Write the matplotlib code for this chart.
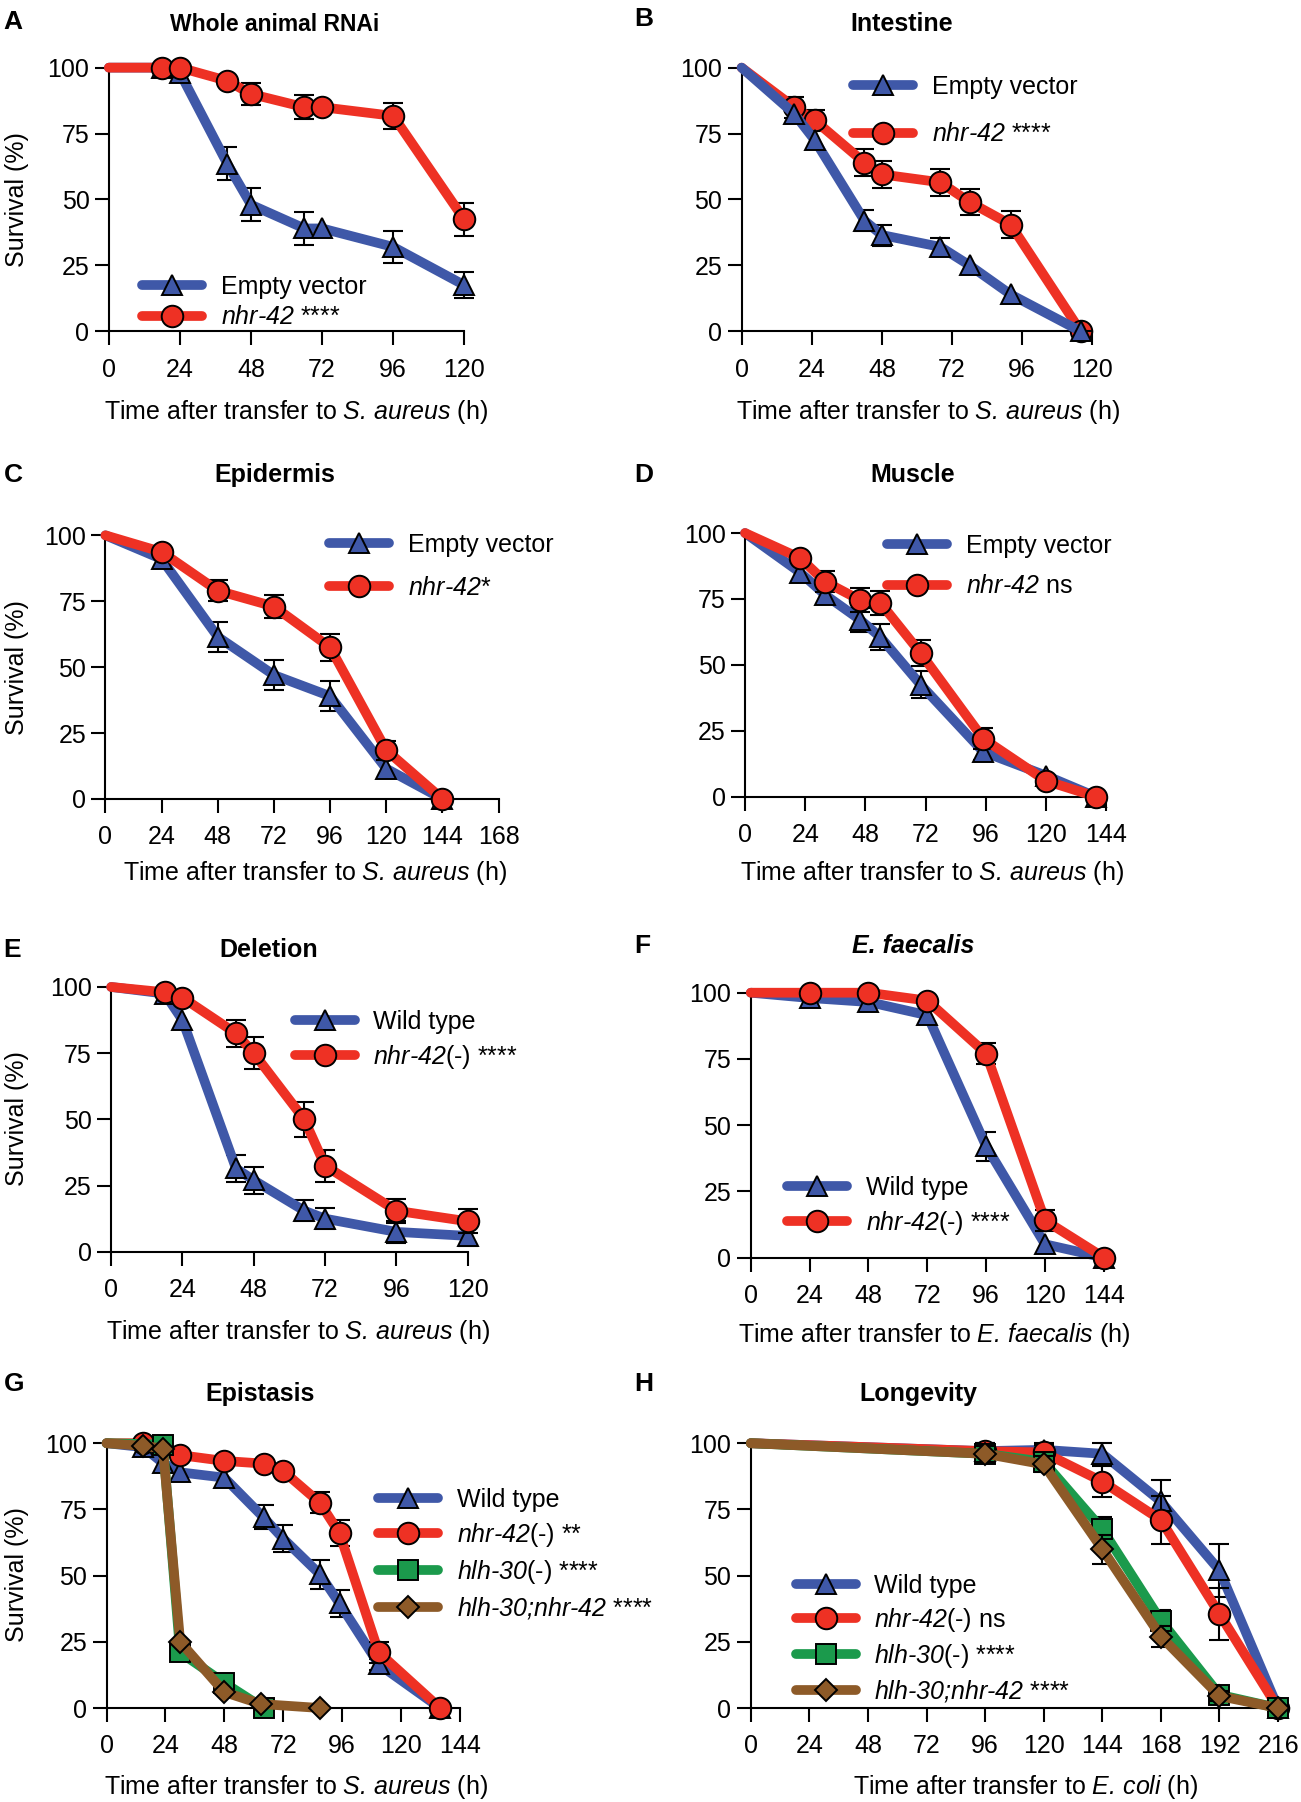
import numpy as np
import matplotlib
matplotlib.use("Agg")
import matplotlib.pyplot as plt
from matplotlib.lines import Line2D

plt.rcParams['font.family'] = ['Liberation Sans', 'DejaVu Sans']
# math text is only used for the italic gene / species names
plt.rcParams['mathtext.fontset'] = 'custom'
plt.rcParams['mathtext.rm'] = 'Liberation Sans:italic'
plt.rcParams['mathtext.it'] = 'Liberation Sans:italic'
plt.rcParams['mathtext.bf'] = 'Liberation Sans:bold'

nan = np.nan

# ---- data (survival %, hours) ----
a_t = [0, 18, 24, 40, 48, 66, 72, 96, 120]
a_ev = [100, 100, 98, 63.5, 48, 39, 39, 32, 17.5]
a_ev_err = [nan, nan, nan, 6.3, 6.3, 6.3, nan, 6.2, 5]
a_nhr = [100, 100, 100, 95, 90, 85, 85, 81.7, 42.4]
a_nhr_err = [nan, nan, nan, nan, 4, 4.5, nan, 4.8, 6.4]

b_t = [0, 18, 25, 42, 48, 68, 78, 92, 116]
b_ev = [100, 82.5, 72.5, 42, 36.5, 32, 25, 14, 0]
b_ev_err = [nan, nan, nan, 4, 4, 3.5, nan, nan, nan]
b_nhr = [100, 85, 80, 64, 59.5, 56.5, 49, 40.5, 0]
b_nhr_err = [nan, 4, 4, 5, 5, 5, 5, 5, nan]

c_t = [0, 24, 48, 72, 96, 120, 144]
c_ev = [100, 91, 61.5, 47, 39, 11.5, 0]
c_ev_err = [nan, nan, 5.7, 5.7, 5.7, 3.5, nan]
c_nhr = [100, 93.7, 79, 73, 57.5, 18.5, 0]
c_nhr_err = [nan, nan, 4, 4.2, 5, 3.6, nan]

d_t = [0, 22, 32, 46, 54, 70, 95, 120, 140]
d_ev = [100, 85, 76.5, 67, 60.5, 42.5, 17, 8, 0]
d_ev_err = [nan, nan, 3.5, 4.5, 5, 5, 3, nan, nan]
d_nhr = [100, 90.5, 81.5, 74.5, 73.5, 54.5, 22, 6, 0]
d_nhr_err = [nan, nan, 4, 4.5, 4.5, 5, 4, nan, nan]

e_t = [0, 18, 24, 42, 48, 65, 72, 96, 120]
e_wt = [100, 97.5, 87.5, 31.5, 27, 15.5, 12.5, 7.5, 6]
e_wt_err = [nan, nan, nan, 5, 5, 4, 4, 4, 4]
e_nhr = [100, 98, 96, 82.5, 75, 50, 32.5, 15.5, 11.5]
e_nhr_err = [nan, nan, nan, 5, 6, 6.5, 6, 4.5, 4.5]

f_t = [0, 24, 48, 72, 96, 120, 144]
f_wt = [100, 98, 96.5, 91.5, 42, 5, 0]
f_wt_err = [nan, nan, nan, nan, 5.5, nan, nan]
f_nhr = [100, 100, 100, 97, 77, 14, 0]
f_nhr_err = [nan, nan, nan, nan, 4, 4, nan]

g_wt_t = [0, 15, 23, 30, 48, 64, 72, 87, 95, 111, 136]
g_wt = [100, 98.5, 92.5, 89, 87, 72, 64, 50.5, 39.5, 16.5, 0]
g_wt_err = [nan, nan, nan, nan, nan, 4.5, 5, 5.5, 5, 2, nan]
g_nhr_t = [0, 15, 30, 48, 64, 72, 87, 95, 111, 136]
g_nhr = [100, 100, 95.5, 93.3, 92.3, 89.5, 77.5, 66, 21, 0]
g_nhr_err = [nan, nan, nan, nan, nan, nan, 4, 5, 4, nan]
g_hlh_t = [0, 23, 30, 48, 64]
g_hlh = [100, 99.5, 21, 9.5, 0]
g_hlh_err = [nan, nan, nan, nan, nan]
g_dbl_t = [0, 15, 23, 30, 48, 63, 87]
g_dbl = [100, 99, 98, 25, 6, 1.5, 0]
g_dbl_err = [nan, nan, nan, nan, nan, nan, nan]

h_t = [0, 96, 120, 144, 168, 192, 216]
h_wt = [100, 97, 97.5, 96, 78, 52, 0]
h_wt_err = [nan, 3, 2.5, 4, 8, 10, nan]
h_nhr = [100, 97, 96.5, 85.5, 71, 35.5, 0]
h_nhr_err = [nan, 3, 3, 6, 9, 10, nan]
h_hlh = [100, 96, 93, 67.5, 33, 5, 0]
h_hlh_err = [nan, 3, 3, 4.5, 4, 2, nan]
h_dbl = [100, 96, 92, 60, 27, 4.5, 0]
h_dbl_err = [nan, 3, 3, 5.5, 4, 2, nan]

nhr = r"$\text{nhr-42}$"
hlh = r"$\text{hlh-30}$"
dbl = r"$\text{hlh-30;nhr-42}$"
saureus = r"Time after transfer to $\text{S. aureus}$ (h)"

BLUE = '#3F58A8'
RED = '#EE3124'
GREEN = '#1B9A4C'
BROWN = '#8D5A28'

STYLE = {
    'blue': (BLUE, '^', 15),
    'red': (RED, 'o', 15.5),
    'green': (GREEN, 's', 14),
    'brown': (BROWN, 'D', 11.5),
}

W, H = 1135.0, 1572.0
fig = plt.figure(figsize=(13.01, 18.02), dpi=100)


def make_axes(x0, x1, ytop, ybot, xmax):
    ax = fig.add_axes([x0 / W, 1 - ybot / H, (x1 - x0) / W, (ybot - ytop) / H])
    ax.set_xlim(0, xmax)
    ax.set_ylim(0, 100)
    ax.set_xticks(np.arange(0, xmax + 1, 24))
    ax.set_yticks([0, 25, 50, 75, 100])
    for s in ['top', 'right']:
        ax.spines[s].set_visible(False)
    for s in ['left', 'bottom']:
        ax.spines[s].set_linewidth(1.5)
    ax.tick_params(length=10, width=1.5, labelsize=18)
    ax.tick_params(axis='x', pad=9)
    ax.tick_params(axis='y', pad=4)
    ax.patch.set_alpha(0)
    return ax


def series(ax, t, y, err, key, z):
    color, marker, ms = STYLE[key]
    t = np.asarray(t, float)
    y = np.asarray(y, float)
    err = np.asarray(err, float)
    ok = ~np.isnan(err)
    if ok.any():
        ax.errorbar(t[ok], y[ok], yerr=err[ok], fmt='none', ecolor='black',
                    elinewidth=1.5, capsize=7.5, capthick=1.5, zorder=z, clip_on=False)
    ax.plot(t, y, color=color, lw=7, solid_capstyle='round', solid_joinstyle='round',
            zorder=z + 0.1, clip_on=False)
    ax.plot(t[1:], y[1:], ls='none', marker=marker, ms=ms, mfc=color, mec='black',
            mew=1.4, zorder=z + 0.2, clip_on=False)


def legend(ax, keys, labels, hx, hy, spacing):
    handles = []
    for k in keys:
        color, marker, ms = STYLE[k]
        handles.append(Line2D([], [], color=color, lw=7, solid_capstyle='round',
                              marker=marker, ms=ms, mfc=color, mec='black', mew=1.4))
    ax.legend(handles, labels, loc='upper left', bbox_to_anchor=((hx + 4) / W, 1 - (hy - 7) / H),
              bbox_transform=fig.transFigure, frameon=False, fontsize=18,
              handlelength=2.4, handletextpad=0.75, labelspacing=spacing,
              borderpad=0, borderaxespad=0)


def decorate(letter, lxy, title, txy, xlabel, xxy, ylab_y=None, title_italic=False, tsize=18):
    fig.text(lxy[0] / W, 1 - lxy[1] / H, letter, fontsize=19, fontweight='bold',
             ha='left', va='center')
    fig.text(txy[0] / W, 1 - txy[1] / H, title, fontsize=tsize, fontweight='bold',
             fontstyle='italic' if title_italic else 'normal', ha='center', va='center')
    fig.text(xxy[0] / W, 1 - xxy[1] / H, xlabel, fontsize=18, ha='center', va='center')
    if ylab_y is not None:
        fig.text(15 / W, 1 - ylab_y / H, 'Survival (%)', fontsize=18, rotation=90,
                 ha='center', va='center')


# A
ax = make_axes(95, 405, 59, 289, 120)
series(ax, a_t, a_ev, a_ev_err, 'blue', 2)
series(ax, a_t, a_nhr, a_nhr_err, 'red', 3)
legend(ax, ['blue', 'red'], ['Empty vector', nhr + ' ****'], 120, 247, 0.25)
decorate('A', (3, 19), 'Whole animal RNAi', (240, 21), saureus, (258, 359), 174, tsize=16.5)

# B
ax = make_axes(647, 953, 59, 289, 120)
series(ax, b_t, b_nhr, b_nhr_err, 'red', 2)
series(ax, b_t, b_ev, b_ev_err, 'blue', 3)
legend(ax, ['blue', 'red'], ['Empty vector', nhr + ' ****'], 740, 72, 0.95)
decorate('B', (553, 17), 'Intestine', (787, 21), saureus, (810, 359))

# C
ax = make_axes(92, 435, 467, 697, 168)
series(ax, c_t, c_ev, c_ev_err, 'blue', 2)
series(ax, c_t, c_nhr, c_nhr_err, 'red', 3)
legend(ax, ['blue', 'red'], ['Empty vector', nhr + '*'], 283, 472, 0.75)
decorate('C', (3, 414), 'Epidermis', (240, 414), saureus, (275, 762), 582)

# D
ax = make_axes(650, 965, 465, 695, 144)
series(ax, d_t, d_ev, d_ev_err, 'blue', 2)
series(ax, d_t, d_nhr, d_nhr_err, 'red', 3)
legend(ax, ['blue', 'red'], ['Empty vector', nhr + ' ns'], 770, 473, 0.65)
decorate('D', (553, 414), 'Muscle', (796, 414), saureus, (813, 762))

# E
ax = make_axes(97, 408, 861, 1092, 120)
series(ax, e_t, e_wt, e_wt_err, 'blue', 2)
series(ax, e_t, e_nhr, e_nhr_err, 'red', 3)
legend(ax, ['blue', 'red'], ['Wild type', nhr + '(-) ****'], 253, 888, 0.36)
decorate('E', (3, 829), 'Deletion', (234, 829), saureus, (260, 1162), 976)

# F
ax = make_axes(655, 963, 866, 1097, 144)
series(ax, f_t, f_wt, f_wt_err, 'blue', 2)
series(ax, f_t, f_nhr, f_nhr_err, 'red', 3)
legend(ax, ['blue', 'red'], ['Wild type', nhr + '(-) ****'], 683, 1033, 0.36)
decorate('F', (553, 825), 'E. faecalis', (797, 825),
         r"Time after transfer to $\text{E. faecalis}$ (h)", (815, 1165), title_italic=True)

# G
ax = make_axes(93, 401, 1259, 1490, 144)
series(ax, g_wt_t, g_wt, g_wt_err, 'blue', 2)
series(ax, g_nhr_t, g_nhr, g_nhr_err, 'red', 3)
series(ax, g_hlh_t, g_hlh, g_hlh_err, 'green', 4)
series(ax, g_dbl_t, g_dbl, g_dbl_err, 'brown', 5)
legend(ax, ['blue', 'red', 'green', 'brown'],
       ['Wild type', nhr + '(-) **', hlh + '(-) ****', dbl + ' ****'], 326, 1305, 0.36)
decorate('G', (3, 1207), 'Epistasis', (227, 1216), saureus, (258, 1559), 1374)

# H
ax = make_axes(655, 1115, 1259, 1490, 216)
series(ax, h_t, h_wt, h_wt_err, 'blue', 2)
series(ax, h_t, h_nhr, h_nhr_err, 'red', 3)
series(ax, h_t, h_hlh, h_hlh_err, 'green', 4)
series(ax, h_t, h_dbl, h_dbl_err, 'brown', 5)
legend(ax, ['blue', 'red', 'green', 'brown'],
       ['Wild type', nhr + '(-) ns', hlh + '(-) ****', dbl + ' ****'], 690, 1380, 0.32)
decorate('H', (553, 1207), 'Longevity', (801, 1216),
         r"Time after transfer to $\text{E. coli}$ (h)", (895, 1559))

fig.savefig('out.png', dpi=100)
